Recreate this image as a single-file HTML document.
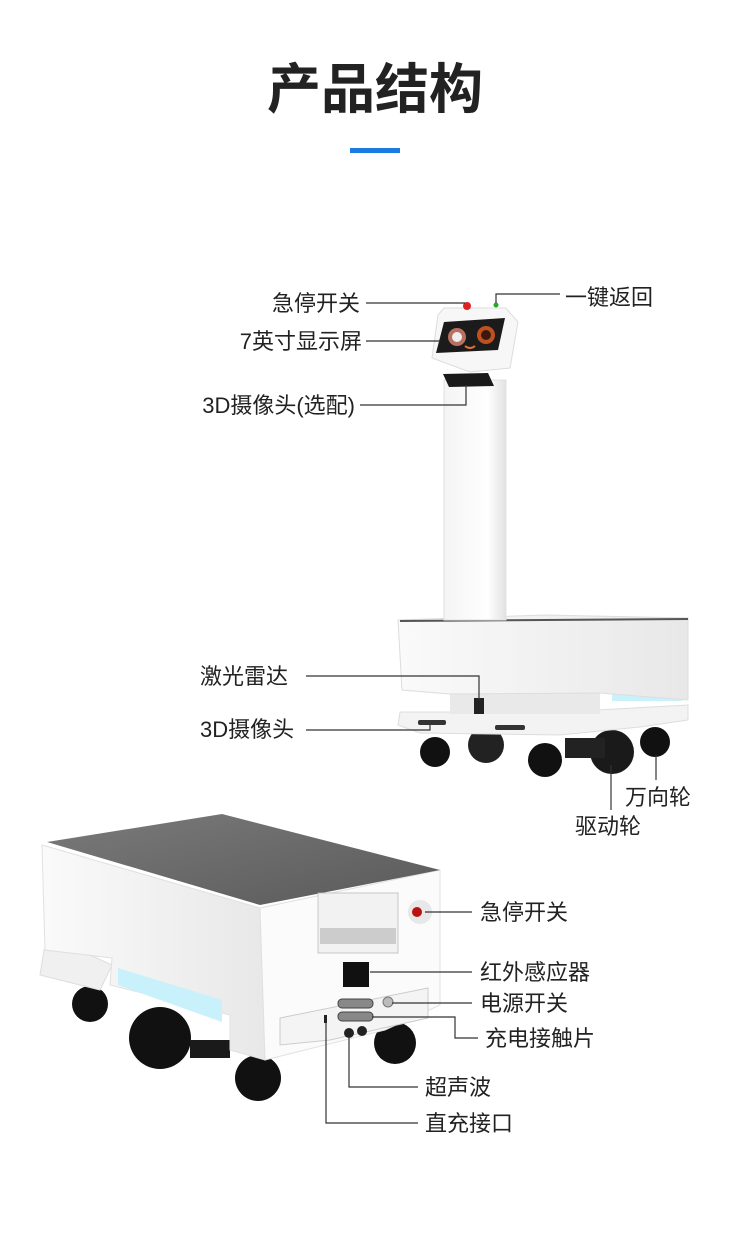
<!DOCTYPE html>
<html><head><meta charset="utf-8"><style>
body{margin:0;width:750px;height:1240px;background:#fff;overflow:hidden;font-family:"Liberation Sans","Noto Sans CJK SC",sans-serif}
svg{position:absolute;left:0;top:0}
</style></head><body>
<svg width="750" height="1240" viewBox="0 0 750 1240" xmlns="http://www.w3.org/2000/svg" font-family="Liberation Sans, Noto Sans CJK SC, sans-serif">
<defs>
<linearGradient id="pole" x1="0" x2="1"><stop offset="0" stop-color="#f4f4f4"/><stop offset=".7" stop-color="#fff"/><stop offset="1" stop-color="#e2e2e2"/></linearGradient>
<linearGradient id="top" x1="0" x2="1" y1="0" y2="1"><stop offset="0" stop-color="#7a7a7a"/><stop offset="1" stop-color="#5a5a5a"/></linearGradient>
<linearGradient id="face" x1="0" x2="1"><stop offset="0" stop-color="#fafafa"/><stop offset="1" stop-color="#e8e8e8"/></linearGradient>
</defs>
<text x="375" y="108" text-anchor="middle" font-size="54" font-weight="bold" fill="#222">产品结构</text>
<rect x="350" y="148" width="50" height="5" fill="#1a7ce0"/>

<g>
<circle cx="435" cy="752" r="15" fill="#111"/>
<circle cx="486" cy="745" r="18" fill="#222"/>
<circle cx="545" cy="760" r="17" fill="#111"/>
<circle cx="612" cy="752" r="22" fill="#1a1a1a"/>
<circle cx="655" cy="742" r="15" fill="#111"/>
<rect x="565" y="738" width="40" height="20" fill="#222"/>
<polygon points="400,712 560,712 688,705 688,720 640,727 560,735 420,733 398,725" fill="#f3f3f3" stroke="#ddd"/>
<rect x="450" y="692" width="150" height="22" fill="#e9e9e9"/>
<rect x="474" y="698" width="10" height="16" fill="#222"/>
<rect x="418" y="720" width="28" height="5" rx="2" fill="#333"/>
<rect x="495" y="725" width="30" height="5" rx="2" fill="#333"/>
<rect x="612" y="694" width="70" height="7" fill="#c8f1fb"/>
<polygon points="398,620 545,615 688,618 688,700 600,693 450,694 402,690" fill="url(#face)" stroke="#ddd"/>
<line x1="400" y1="621" x2="688" y2="619" stroke="#555" stroke-width="2"/>
<rect x="444" y="380" width="62" height="240" fill="url(#pole)" stroke="#e0e0e0"/>
<polygon points="444,308 506,308 518,322 510,368 470,372 432,358 438,315" fill="#f7f7f7" stroke="#ddd"/>
<polygon points="444,322 505,318 498,350 436,353" fill="#1b1b1b"/>
<circle cx="457" cy="337" r="9" fill="#b87060"/><circle cx="457" cy="337" r="5" fill="#eee"/>
<circle cx="486" cy="335" r="9" fill="#c05020"/><circle cx="486" cy="335" r="5" fill="#3a1a10"/>
<path d="M465,346 q5,4 10,0" stroke="#e07030" stroke-width="2" fill="none"/>
<polygon points="443,374 488,373 494,386 449,387" fill="#1a1a1a"/>
<circle cx="467" cy="306" r="4" fill="#d22"/>
<circle cx="496" cy="305" r="2.5" fill="#2a2"/>
</g>

<g>
<circle cx="90" cy="1004" r="18" fill="#111"/>
<circle cx="160" cy="1038" r="31" fill="#111"/>
<circle cx="258" cy="1078" r="23" fill="#111"/>
<circle cx="395" cy="1043" r="21" fill="#111"/>
<rect x="190" y="1040" width="40" height="18" fill="#1a1a1a"/>
<polygon points="44,950 90,955 112,965 100,990 40,975" fill="#f0f0f0" stroke="#ddd"/>
<polygon points="42,845 260,908 265,1060 230,1050 230,1015 110,985 112,958 45,950" fill="url(#face)" stroke="#e0e0e0"/>
<polygon points="260,908 440,870 440,1005 385,1030 265,1060" fill="#fbfbfb" stroke="#e0e0e0"/>
<polygon points="280,1018 428,988 428,1018 330,1040 280,1045" fill="#f4f4f4" stroke="#ccc"/>
<polygon points="47,842 222,814 440,870 260,905" fill="url(#top)"/>
<polygon points="118,968 222,1000 222,1022 118,985" fill="#c8f1fb"/>
<rect x="318" y="893" width="80" height="60" fill="#f2f2f2" stroke="#bbb" stroke-width=".8"/>
<rect x="320" y="928" width="76" height="16" fill="#ccc"/>
<circle cx="420" cy="912" r="12" fill="#e8e8e8"/><circle cx="417" cy="912" r="5" fill="#b11"/>
<rect x="343" y="962" width="26" height="25" fill="#111"/>
<rect x="338" y="999" width="35" height="9" rx="4" fill="#888" stroke="#444"/>
<rect x="338" y="1012" width="35" height="9" rx="4" fill="#888" stroke="#444"/>
<circle cx="388" cy="1002" r="5" fill="#bbb" stroke="#777"/>
<circle cx="349" cy="1033" r="5" fill="#222"/><circle cx="362" cy="1031" r="5" fill="#222"/>
<rect x="324" y="1015" width="3" height="8" fill="#222"/>
</g>

<g stroke="#333" stroke-width="1.2" fill="none">
<line x1="366" y1="303" x2="465" y2="303"/>
<polyline points="560,294 496,294 496,303"/>
<line x1="366" y1="341" x2="440" y2="341"/>
<polyline points="360,405 466,405 466,385"/>
<polyline points="306,676 479,676 479,700"/>
<polyline points="306,730 430,730 430,725"/>
<line x1="611" y1="765" x2="611" y2="810"/>
<line x1="656" y1="755" x2="656" y2="780"/>
<line x1="425" y1="912" x2="472" y2="912"/>
<line x1="370" y1="972" x2="472" y2="972"/>
<line x1="392" y1="1003" x2="472" y2="1003"/>
<polyline points="372,1017 455,1017 455,1038 478,1038"/>
<polyline points="349,1038 349,1087 418,1087"/>
<polyline points="326,1022 326,1123 418,1123"/>
</g>
<g font-size="22" fill="#222">
<text x="360" y="311" text-anchor="end">急停开关</text>
<text x="565" y="305">一键返回</text>
<text x="362" y="349" text-anchor="end">7英寸显示屏</text>
<text x="355" y="413" text-anchor="end">3D摄像头(选配)</text>
<text x="200" y="684">激光雷达</text>
<text x="200" y="737">3D摄像头</text>
<text x="625" y="805">万向轮</text>
<text x="575" y="834">驱动轮</text>
<text x="480" y="920">急停开关</text>
<text x="480" y="980">红外感应器</text>
<text x="480" y="1011">电源开关</text>
<text x="485" y="1046">充电接触片</text>
<text x="425" y="1095">超声波</text>
<text x="425" y="1131">直充接口</text>
</g>
</svg>
</body></html>
